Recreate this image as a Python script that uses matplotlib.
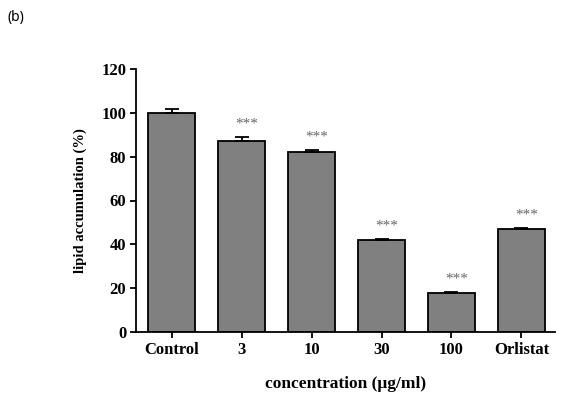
import matplotlib
matplotlib.use("Agg")
import matplotlib.pyplot as plt

categories = ["Control", "3", "10", "30", "100", "Orlistat"]
values = [100, 87, 82, 42, 18, 47]
errors = [1.8, 1.8, 1.2, 0.5, 0.4, 0.5]
signif = ["", "***", "***", "***", "***", "***"]
yticks = [0, 20, 40, 60, 80, 100, 120]

fig = plt.figure(figsize=(5.63, 3.93), dpi=100)
ax = fig.add_axes([136/563, 1 - 332/393, (555-136)/563, 263/393])
serif = "Liberation Serif"
x = list(range(len(categories)))
ax.bar(x, values, width=0.67, color="#808080", edgecolor="black", linewidth=1.3, zorder=2)
ax.errorbar(x, values, yerr=[[0]*len(errors), errors], fmt="none", ecolor="black",
            elinewidth=1.3, capsize=5, capthick=1.3, zorder=3)
for xi, v, e, s in zip(x, values, errors, signif):
    if s:
        ax.text(xi + 0.07, v + e + 3.0, s, ha="center", va="bottom", fontsize=11,
                color="#666666", family=serif)
ax.set_xlim(-0.51, 5.48)
ax.set_ylim(0, 120)
ax.set_yticks(yticks)
ax.set_xticks(x)
ax.set_xticklabels(categories, fontfamily=serif, fontweight="bold", fontsize=12)
ax.set_yticklabels([str(t) for t in yticks], fontfamily=serif, fontweight="bold", fontsize=12)
for sp in ["top", "right"]:
    ax.spines[sp].set_visible(False)
for sp in ["left", "bottom"]:
    ax.spines[sp].set_linewidth(1.3)
ax.tick_params(axis="both", direction="out", length=4, width=1.3, pad=3)
ax.set_ylabel("lipid accumulation (%)", fontfamily=serif, fontweight="bold", fontsize=10.5, labelpad=10)
ax.set_xlabel("concentration (\u03bcg/ml)", fontfamily=serif, fontweight="bold", fontsize=12.5, labelpad=13)
fig.text(8/563, 1 - 17/393, "(b)", fontsize=10, family="Noto Sans", va="center", ha="left")
fig.savefig("out.png", dpi=100)
